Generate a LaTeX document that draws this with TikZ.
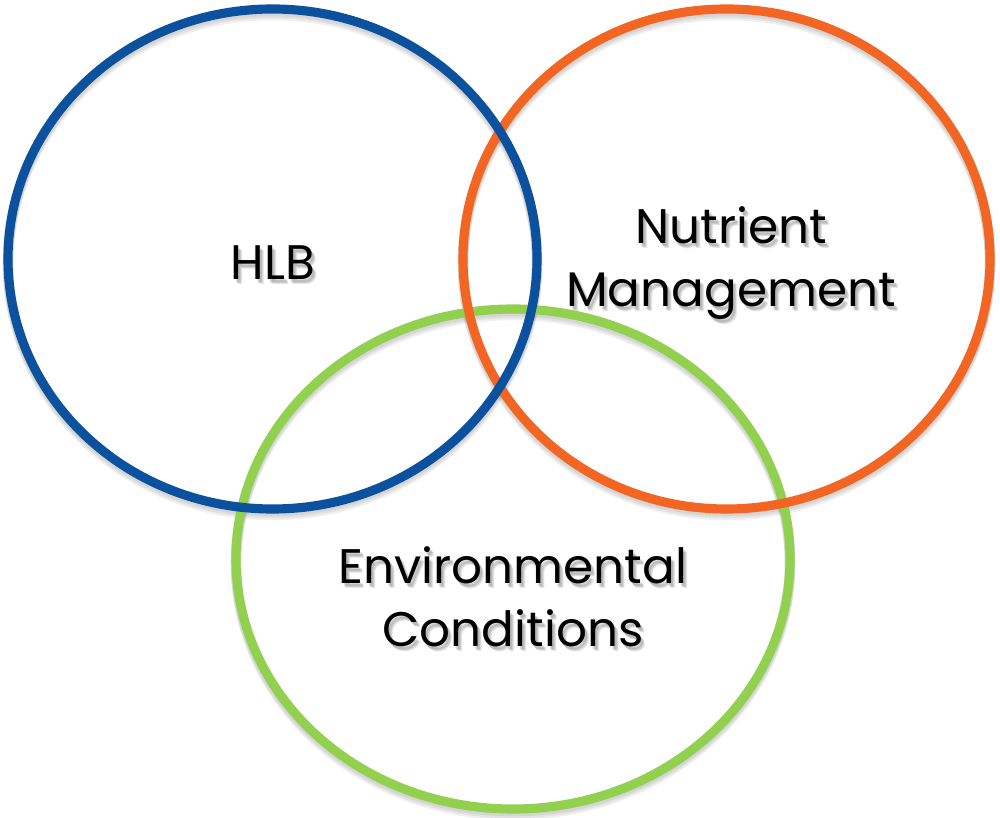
\documentclass[tikz,border=0pt]{standalone}
\usepackage{fontspec}
\setmainfont{Poppins}
\usepackage{tikz}

\definecolor{hlbblue}{HTML}{0C519E}
\definecolor{nutorange}{HTML}{F26522}
\definecolor{envgreen}{HTML}{92D050}

\tikzset{
	ring/.style={line width=2.6pt},
	ringshadow/.style={line width=3pt, black, opacity=0.06},
	word/.style={font=\fontsize{13.8}{18}\selectfont, align=center, inner sep=0pt},
	wordshadow/.style={word, black, opacity=0.10}
}

\begin{document}
\begin{tikzpicture}[]
	%\draw[help lines] (0,0) grid (10,8.17);
	\useasboundingbox (0,0) rectangle (10,8.17);
	% soft shadows under the rings
	\foreach \d in {0.02,0.04,0.06} {
		\draw[ringshadow] (5.13,2.58-\d) ellipse (2.77 and 2.50);
		\draw[ringshadow] (7.265,5.58-\d) ellipse (2.635 and 2.50);
		\draw[ringshadow] (2.725,5.58-\d) ellipse (2.645 and 2.50);
	}
	% rings: green first, then orange, blue on top
	\draw[ring, envgreen] (5.13,2.58) ellipse (2.77 and 2.50);
	\draw[ring, nutorange] (7.265,5.58) ellipse (2.635 and 2.50);
	\draw[ring, hlbblue] (2.725,5.58) ellipse (2.645 and 2.50);
	% text shadows
	\foreach \dx/\dy in {0.02/-0.03,0.03/-0.04,0.04/-0.05} {
		\node[wordshadow] at (2.73+\dx,5.54+\dy) {HLB};
		\node[wordshadow] at (7.31+\dx,5.54+\dy) {Nutrient\\Management};
		\node[wordshadow] at (5.13+\dx,2.20+\dy) {Environmental\\Conditions};
	}
	% text
	\node[word] (hlb) at (2.73,5.54) {HLB};
	\node[word] (nut) at (7.31,5.54) {Nutrient\\Management};
	\node[word] (env) at (5.13,2.20) {Environmental\\Conditions};
\end{tikzpicture}
\end{document}
